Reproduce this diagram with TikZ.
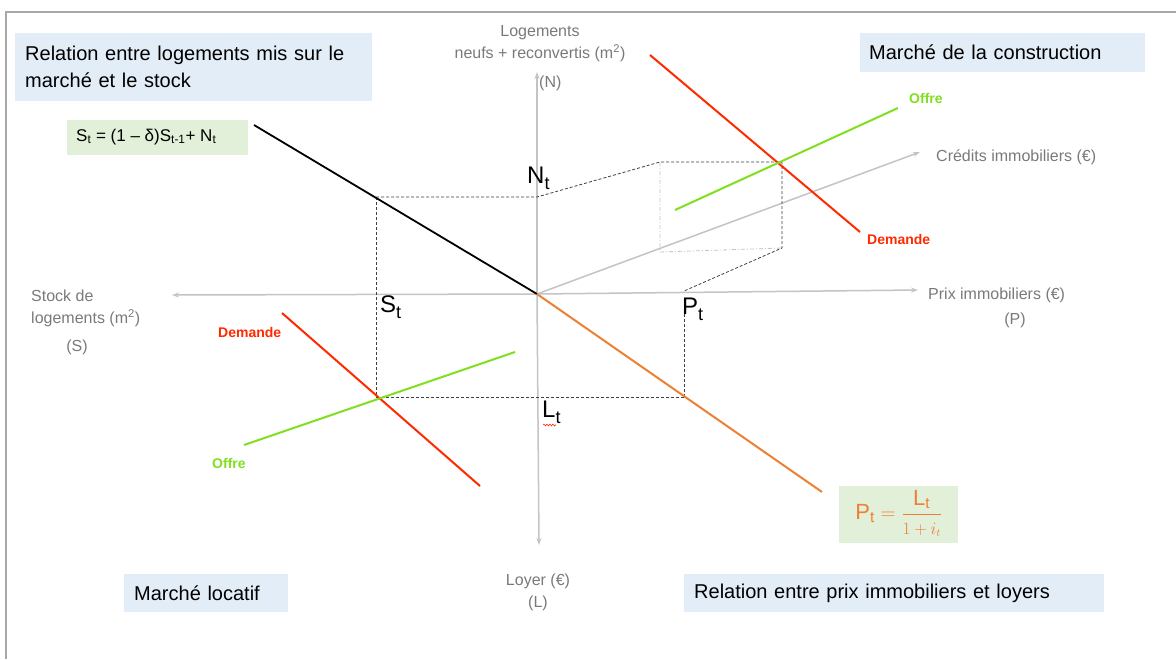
\documentclass[tikz,border=0pt]{standalone}
\usepackage{fontspec}
\setmainfont{Liberation Sans}
\usetikzlibrary{arrows.meta,decorations.pathmorphing}
\definecolor{axisgray}{HTML}{C4C4C4}
\definecolor{labgray}{HTML}{7A7A7A}
\definecolor{dred}{HTML}{FF2A00}
\definecolor{dgreen}{HTML}{80E020}
\definecolor{dorange}{HTML}{EE8033}
\definecolor{bluefill}{HTML}{E3EDF8}
\definecolor{greenfill}{HTML}{E2EFD9}
\definecolor{dashgray}{HTML}{404040}
\definecolor{framegray}{HTML}{A8A8A8}
\newcommand{\bigsub}[1]{\raisebox{-6pt}{\fontsize{18}{18}\selectfont #1}}
\begin{document}
\begin{tikzpicture}[x=1pt,y=-1pt,
  axis/.style={draw=axisgray, line width=1.5pt, -{Stealth[length=7pt,width=5pt]}},
  guide/.style={draw=dashgray, line width=0.8pt, dash pattern=on 3pt off 2pt},
  guidelight/.style={draw=axisgray, line width=0.8pt, dash pattern=on 4pt off 2pt on 1pt off 2pt},
  curve/.style={line width=2pt},
  lab/.style={text=labgray, font=\fontsize{16}{22}\selectfont, inner sep=0pt},
  curvelab/.style={font=\bfseries\fontsize{14}{16}\selectfont, inner sep=0pt, anchor=west},
  biglab/.style={font=\fontsize{24}{26}\selectfont, inner sep=0pt, anchor=west},
  titlebox/.style={fill=bluefill, anchor=north west, font=\fontsize{20}{27}\selectfont,
    align=left, inner xsep=10pt, inner ysep=2pt},
  eqbox/.style={fill=greenfill, anchor=north west, inner sep=0pt}
]
\useasboundingbox (0,0) rectangle (1176,659);
\fill[white] (0,0) rectangle (1176,659);
% frame
\coordinate (F1) at (5,12);
\coordinate (F2) at (1176,12);
\coordinate (F3) at (6,659);
\draw[framegray, line width=1.2pt] (F2) -- (F1 -| F3) -- (F3);

% title boxes
\node[titlebox, text width=337pt, minimum height=68pt] (t1) at (15,33)
  {Relation entre logements mis sur le\\marché et le stock};
\node[titlebox, text width=267pt, minimum height=39pt, inner xsep=9pt] (t2) at (860,33)
  {Marché de la construction};
\node[titlebox, text width=144pt, minimum height=38pt] (t3) at (124,574)
  {Marché locatif};
\node[titlebox, text width=400pt, minimum height=38pt] (t4) at (684,574)
  {Relation entre prix immobiliers et loyers};

% equation boxes
\node[eqbox, minimum width=181pt, minimum height=35pt] (eq1) at (67,120) {};
\node[font=\fontsize{17}{20}\selectfont, anchor=west, inner sep=0pt] (eq1t) at (76,137)
  {S\textsubscript{t} = (1 – δ)S\textsubscript{t-1}+ N\textsubscript{t}};
\node[eqbox, minimum width=119pt, minimum height=57pt] (eq2) at (839,486) {};
\node[text=dorange, font=\fontsize{22}{24}\selectfont, inner sep=0pt] (eq2t) at ([yshift=1pt]eq2.center)
  {$\mathrm{P_t}=\displaystyle\frac{\mathrm{L_t}}{\mbox{\fontsize{16}{16}\selectfont$1+i_t$}}$};

% axes
\coordinate (O) at (537,294);
\coordinate (Nup) at (537,72);
\coordinate (Ldn) at (539,545);
\coordinate (Sl) at (172,295);
\coordinate (Pr) at (918,290);
\coordinate (Cr) at (920,152);
\draw[axis] (O) -- (Nup);
\draw[axis] (O) -- (Ldn);
\draw[axis] (O) -- (Sl);
\draw[axis] (O) -- (Pr);
\draw[axis] (O) -- (Cr);

% axis labels
\node[lab, align=center] (labN) at (540,44) {Logements\\neufs + reconvertis (m\textsuperscript{2})};
\node[lab, anchor=west] (labN2) at (539,83) {(N)};
\node[lab, anchor=west] (labC) at (936,157) {Crédits immobiliers (€)};
\node[lab, anchor=west] (labP) at (928,295) {Prix immobiliers (€)};
\node[lab] (labP2) at (1015,320) {(P)};
\node[lab, align=left, anchor=north west] (labS) at (31,290) {Stock de\\logements (m\textsuperscript{2})};
\node[lab] (labS2) at (77,347) {(S)};
\node[lab, align=center] (labL) at (538,592) {Loyer (€)\\(L)};

% guide lines
\coordinate (A) at (376,197);
\coordinate (Nt) at (537,197);
\coordinate (C1) at (660,162);
\coordinate (E1) at (782,162);
\coordinate (E1b) at (782,248);
\coordinate (C2) at (660,252);
\coordinate (Pt) at (684,291);
\coordinate (E2) at (377,397);
\coordinate (B) at (684,397);
\coordinate (Ptl) at (684,314);
\draw[guidelight] (C1) -- (C2) -- (E1b);
\draw[guide] (A) -- (Nt) -- (C1) -- (E1) -- (E1b) -- (Pt);
\draw[guide] (A |- A) -- (A |- E2);
\draw[guide] (A |- E2) -- (B);
\draw[guide] (Ptl) -- (B);

% curves
\coordinate (K1) at (254,125);
\coordinate (K2) at (822,492);
\draw[curve, black, line width=1.8pt] (K1) -- (O);
\draw[curve, dorange] (O) -- (K2);
\coordinate (D1a) at (650,55);
\coordinate (D1b) at (860,232);
\coordinate (S1a) at (675,210);
\coordinate (S1b) at (898,108);
\coordinate (D2a) at (282,313);
\coordinate (D2b) at (480,486);
\coordinate (S2a) at (244,445);
\coordinate (S2b) at (515,352);
\draw[curve, dred] (D1a) -- (D1b);
\draw[curve, dgreen] (S1a) -- (S1b);
\draw[curve, dred] (D2a) -- (D2b);
\draw[curve, dgreen] (S2a) -- (S2b);

% curve labels
\node[curvelab, text=dgreen] (o1) at (909,98) {Offre};
\node[curvelab, text=dred] (d1) at (867,239) {Demande};
\node[curvelab, text=dred] (d2) at (218,332) {Demande};
\node[curvelab, text=dgreen] (o2) at (212,463) {Offre};

% point labels
\node[biglab] (lNt) at (527,178) {N\bigsub{t}};
\node[biglab] (lSt) at (380,307) {S\bigsub{t}};
\node[biglab] (lPt) at (682,309) {P\bigsub{t}};
\node[biglab] (lLt) at (542,412) {L\bigsub{t}};
\coordinate (w1) at (543,425);
\coordinate (w2) at (556,425);
\draw[dred, line width=0.6pt, decorate, decoration={snake, segment length=3pt, amplitude=0.9pt}] (w1) -- (w2);
\end{tikzpicture}
\end{document}
